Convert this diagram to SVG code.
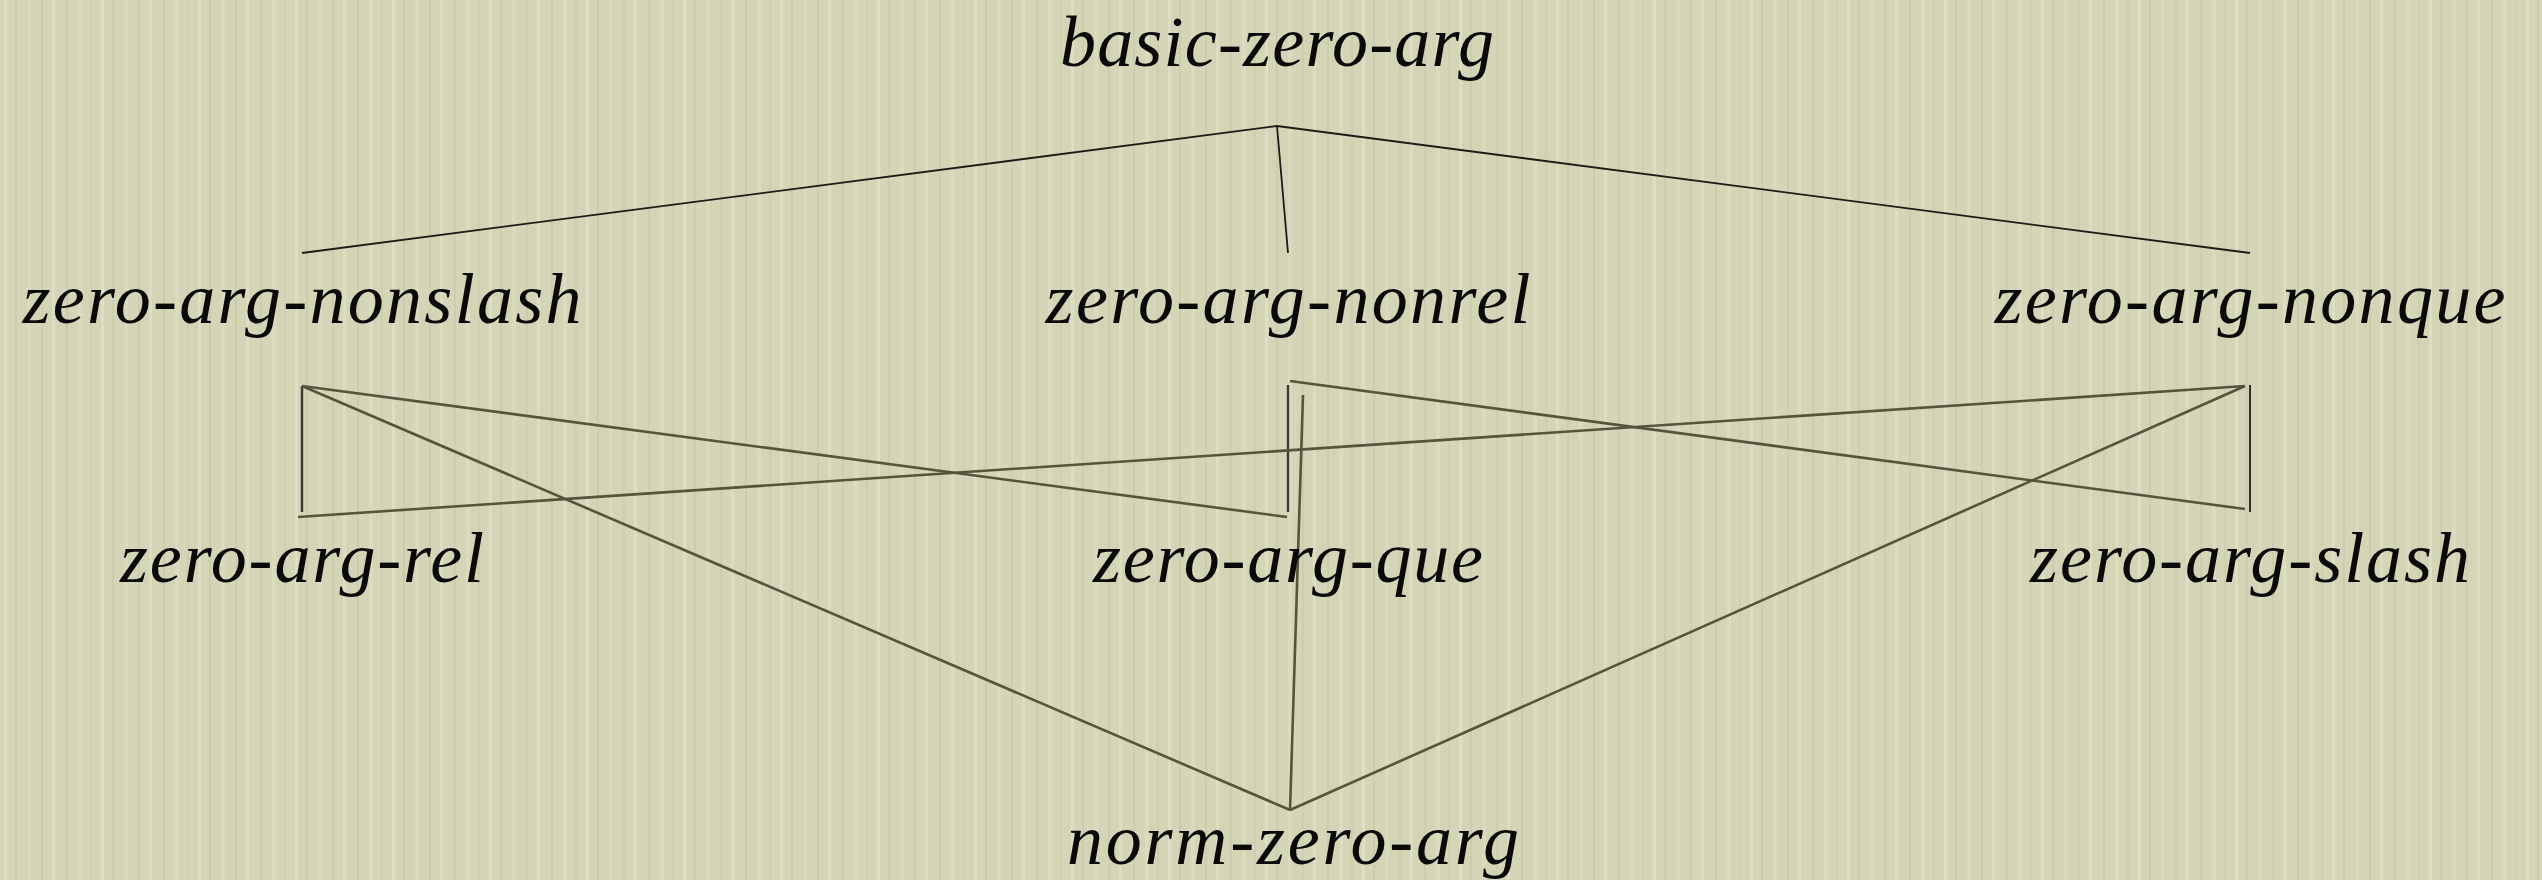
<svg xmlns="http://www.w3.org/2000/svg" width="2542" height="880" viewBox="0 0 2542 880">
  <style>
    .lbl { font-family: 'Liberation Serif', 'DejaVu Serif', serif; font-style: italic; font-size: 72px; fill: #0a0a0a; text-anchor: middle; }
    .top { stroke: #1c1c18; stroke-width: 1.8; fill: none; }
    .edge { stroke: #55543c; stroke-width: 2.6; fill: none; }
    .vert { stroke: #3c3b30; stroke-width: 2.4; fill: none; }
  </style>
  <defs>
    <pattern id="paper" x="0" y="0" width="97" height="880" patternUnits="userSpaceOnUse">
      <rect x="0" y="0" width="97" height="880" fill="#d4d5b7"/>
      <rect x="4" y="0" width="3" height="880" fill="#e4e5cc" opacity="0.55"/>
      <rect x="15" y="0" width="2" height="880" fill="#c4c5a6" opacity="0.5"/>
      <rect x="27" y="0" width="4" height="880" fill="#e2e3c9" opacity="0.45"/>
      <rect x="41" y="0" width="2" height="880" fill="#c6c7a8" opacity="0.5"/>
      <rect x="52" y="0" width="3" height="880" fill="#e5e6ce" opacity="0.5"/>
      <rect x="66" y="0" width="2" height="880" fill="#c3c4a4" opacity="0.45"/>
      <rect x="78" y="0" width="4" height="880" fill="#e0e1c7" opacity="0.5"/>
      <rect x="90" y="0" width="2" height="880" fill="#c7c8aa" opacity="0.5"/>
    </pattern>
  </defs>
  <rect x="0" y="0" width="2542" height="880" fill="url(#paper)"/>

  <g id="connectors">
    <line class="top" x1="1277" y1="126" x2="302" y2="253"/>
    <line class="top" x1="1277" y1="126" x2="1288" y2="253"/>
    <line class="top" x1="1277" y1="126" x2="2250" y2="253"/>
    <line class="vert" x1="302" y1="386" x2="302" y2="512"/>
    <line class="edge" x1="302" y1="386" x2="1287" y2="517"/>
    <line class="edge" x1="302" y1="386" x2="1290" y2="810"/>
    <line class="vert" x1="1288" y1="385" x2="1288" y2="512"/>
    <line class="edge" x1="1290" y1="381" x2="2245" y2="509"/>
    <line class="edge" x1="1303" y1="395" x2="1290" y2="810"/>
    <line class="edge" x1="2245" y1="386" x2="298" y2="517"/>
    <line class="edge" x1="2245" y1="386" x2="1290" y2="810"/>
    <line class="top" x1="2250" y1="385" x2="2250" y2="512"/>
  </g>

  <g id="basic-zero-arg"><text class="lbl" x="1277" y="66" textLength="434" lengthAdjust="spacing">basic-zero-arg</text></g>
  <g id="zero-arg-nonslash"><text class="lbl" x="302" y="323" textLength="559" lengthAdjust="spacing">zero-arg-nonslash</text></g>
  <g id="zero-arg-nonrel"><text class="lbl" x="1288" y="323" textLength="485" lengthAdjust="spacing">zero-arg-nonrel</text></g>
  <g id="zero-arg-nonque"><text class="lbl" x="2250" y="323" textLength="511" lengthAdjust="spacing">zero-arg-nonque</text></g>
  <g id="zero-arg-rel"><text class="lbl" x="302" y="582" textLength="364" lengthAdjust="spacing">zero-arg-rel</text></g>
  <g id="zero-arg-que"><text class="lbl" x="1288" y="582" textLength="390" lengthAdjust="spacing">zero-arg-que</text></g>
  <g id="zero-arg-slash"><text class="lbl" x="2250" y="582" textLength="440" lengthAdjust="spacing">zero-arg-slash</text></g>
  <g id="norm-zero-arg"><text class="lbl" x="1293" y="864" textLength="452" lengthAdjust="spacing">norm-zero-arg</text></g>
</svg>
